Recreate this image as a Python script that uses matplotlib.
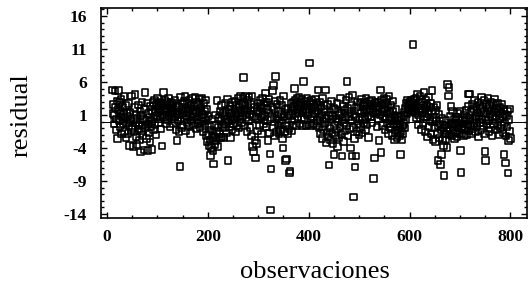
import matplotlib
matplotlib.use('Agg')
import matplotlib.pyplot as plt
from matplotlib.ticker import MultipleLocator
import numpy as np

res_a = [4.8, 1.2, 2.6, -0.4, 0.9, 4.6, 2.1, -1.3, 0.4, 3.1,
         -2.6, 1.8, 4.7, 0.2, 2.9, -0.8, 1.5, 3.4, -1.9, 0.7,
         2.2, -0.3, 1.1, 3.8, -1.5, 0.6, 2.4, -2.4, 1.3, -0.1,
         0.8, -1.8, 2.7, -0.6, -3.6, 1.4, 0.1, -1.2, 3.9, -0.9,
         -3.8, 0.5, -1.6, 2.1, 4.1, -0.2, -2.3, 1.0, -3.5, 0.3,
         -1.1, 2.5, -0.5, -2.8, 1.6, -4.6, 0.9, -1.4, 3.0, -0.7,
         -2.1, 0.4, -4.3, 1.9, 4.4, -1.0, 0.2, -2.6, 2.8, -0.4,
         -4.4, 1.2, -1.7, 0.6, -3.1, 2.3, -0.8, 0.0, -4.2, 1.5,
         2.9, -1.3, 0.7, 3.3, -0.5, 1.8, -2.0, 2.6, 0.9, 3.5,
         1.4, -0.2, 2.2, 3.0, 0.6, 1.9, -1.1, 2.7, -3.7, 1.0]
res_b = [2.4, 4.4, 1.7, 0.8, 3.2, 2.0, -0.4, 1.5, 2.9, 0.3,
         1.8, 3.6, 0.9, 2.5, -0.8, 1.2, 3.0, 2.2, 0.5, 1.6,
         2.8, -0.3, 1.9, 0.7, 3.3, 1.1, -1.2, 2.4, -2.9, 1.4,
         0.2, 2.1, -1.5, 1.0, -6.8, 3.7, 0.6, -0.9, 1.8, 2.6,
         -0.6, 1.3, 3.1, 0.4, 3.8, -1.4, 2.0, 0.9, -0.2, 2.7,
         1.5, -0.7, 3.2, 0.8, 1.9, -1.8, 2.4, 0.1, 3.5, 1.2,
         -0.5, 2.3, 0.7, 3.7, 1.6, -1.1, 2.9, 0.3, 1.4, -0.3,
         2.6, 0.9, 3.4, -0.9, 1.7, 2.2, 0.0, 3.6, 1.1, -1.6,
         0.6, 2.8, -0.4, 1.5, 3.3, 0.2, -2.1, 1.9, -3.0, 0.8,
         -1.9, -3.6, -0.7, -2.8, -5.1, -1.3, -3.9, 0.4, -2.4, -4.4]
res_c = [-6.4, -2.2, -0.6, -3.5, 1.0, -2.9, -1.5, 3.2, -3.8, -0.9,
         -2.4, 0.6, -1.8, 1.5, -2.5, 0.2, 2.4, -2.3, -0.5, 1.3,
         -2.4, 0.9, -1.0, 2.7, -0.3, 1.6, -1.7, 0.4, 3.4, -5.9,
         0.1, 1.8, -0.8, 2.3, -2.4, 0.7, 1.2, -1.3, 2.9, 0.5,
         -0.4, 1.9, 0.3, 3.1, -1.6, 1.1, 2.5, -0.6, 0.8, 3.5,
         1.6, -1.0, 2.2, 0.4, 3.8, 1.3, -0.2, 2.7, 0.9, 3.6,
         6.7, 1.8, -0.7, 2.5, 3.9, 0.6, 1.4, -1.5, 3.3, 2.0,
         0.2, 3.7, 1.1, -0.9, 2.6, 1.7, -2.2, 3.9, -3.8, 0.8,
         -4.5, 2.1, -2.9, -5.5, 0.5, -3.3, 1.6, -1.4, 2.8, 0.3,
         1.5, -0.6, 3.2, 2.3, 0.7, -1.9, 2.0, 3.6, 1.0, -0.3]
res_d = [2.4, 0.9, 3.0, 4.3, -0.8, 1.8, 2.9, 0.2, -2.9, 1.3,
         3.4, -1.7, -4.9, -13.4, -7.2, 0.6, 2.2, 4.7, -1.0, 5.5,
         1.9, -2.2, 3.1, 6.8, 0.4, -1.6, 2.6, 0.8, -0.5, 1.5,
         -1.9, 0.2, 3.2, -1.2, 1.1, -0.3, 2.4, -2.6, -4.0, 3.9,
         0.7, -1.5, 1.8, -5.9, -0.7, -5.7, 2.0, -1.8, 0.5, 1.2,
         -1.1, -7.8, -7.5, 0.9, 2.7, -1.4, 0.1, 1.6, -0.6, 3.0,
         2.3, 5.0, 3.3, 1.2, 2.8, -0.6, 3.6, 1.9, 0.8, 2.5,
         3.7, 1.4, -0.4, 2.9, 2.1, 0.6, 3.4, -0.6, 1.7, 6.1,
         2.6, 0.3, 3.1, 1.8, -0.7, 2.4, 3.6, 1.0, -0.5, 2.2,
         1.5, 8.9, 2.9, 0.4, -0.6, 3.2, 1.9, 0.8, 2.6, -0.3]
res_e = [2.1, 1.2, 3.4, -0.6, 1.6, 2.8, 0.2, 4.8, 1.3, -0.9,
         3.0, 0.7, -1.8, 2.2, 1.0, -2.6, 3.5, 0.1, -1.2, 2.4,
         -0.4, 1.8, 4.8, -3.2, 0.5, -1.6, 2.6, -2.3, 0.9, -6.6,
         -1.0, 1.4, -2.8, 0.3, 3.1, -1.7, 0.8, -3.4, 2.0, -5.0,
         -0.6, 1.9, -2.1, 0.4, -1.3, 2.7, -3.8, 0.0, 1.5, -2.5,
         0.9, -0.8, 3.6, -1.9, 1.2, -5.2, 0.3, 2.3, -3.0, -0.2,
         1.7, -1.4, 0.6, 3.3, -0.7, 6.1, 2.0, -2.2, 0.8, 3.7,
         -1.1, 1.3, -4.0, 0.2, 2.5, -5.2, 4.0, -0.9, -11.4, 1.0,
         -2.6, -6.9, 0.7, -5.2, 2.2, -1.5, 3.0, -0.4, 1.6, -2.0,
         0.4, 2.8, -0.9, 1.2, 3.4, -1.7, 0.6, 2.3, -0.2, 1.5]
res_f = [2.9, 0.3, -1.3, 3.6, 1.8, -0.5, 2.4, 0.9, -2.4, 1.6,
         3.1, 1.9, 2.6, 0.7, 3.3, -0.2, 2.0, 1.4, -8.6, 2.8,
         -5.5, 1.2, 3.0, 2.2, -0.8, 1.7, 2.9, 0.5, -2.9, 2.4,
         1.1, 4.8, -4.7, 3.2, 1.5, -0.6, 2.5, 0.8, 3.6, 1.9,
         -1.2, 2.7, 0.4, 3.4, 1.3, -0.3, 2.1, -1.8, 3.9, 0.6,
         1.5, -0.9, 2.4, 0.2, -2.1, 1.6, 3.1, -0.4, 0.9, -2.7,
         0.5, -1.3, 1.8, -0.6, -2.4, 0.2, -1.7, 0.8, -0.9, -2.2,
         -0.4, -5.0, -1.5, 0.6, -2.8, -0.7, -1.9, 0.9, -0.3, 1.4,
         -1.0, 2.0, 0.3, 2.7, 1.2, 3.3, 2.5, 1.8, 3.0, 2.2,
         2.6, 1.7, 3.2, 2.1, 2.9, 1.5, 11.7, 2.4, 3.4, 1.9]
res_g = [2.8, 1.3, 3.6, 0.6, 2.2, 4.2, 1.0, -0.5, 2.7, 1.6,
         3.9, 0.4, 2.0, -1.2, 3.0, 1.4, -0.3, 2.5, 4.4, 0.8,
         1.9, -1.6, 3.3, 0.7, 2.4, -2.3, 1.2, 3.7, -0.8, 2.1,
         0.3, 2.8, -1.9, 1.5, 4.7, 0.0, -2.7, 2.2, 0.6, -1.0,
         1.7, -3.0, 0.2, 2.4, -1.8, -5.9, -0.6, 1.1, -2.5, -0.4,
         -6.5, -1.3, -5.0, 0.5, -2.9, -1.0, -3.6, -8.2, -0.5, -1.9,
         -2.7, 0.2, -1.4, -3.9, 5.6, -0.9, 3.9, 5.2, -2.0, 0.8,
         -1.2, 2.3, -0.4, -2.2, 1.6, -0.8, -1.7, 0.4, -2.6, -0.3,
         -1.5, 0.7, -0.6, -2.3, 1.2, -1.0, 0.3, -1.9, -0.2, 1.6,
         -4.4, -7.7, -0.8, -1.8, 0.5, -0.4, -2.1, 1.0, -1.2, 0.2]
res_h = [-0.9, 1.7, -2.0, 0.6, -0.5, 2.3, 4.2, -1.4, 4.2, 0.4,
         -0.7, 1.5, -1.8, 2.6, 0.1, -1.1, 1.9, -0.3, 3.3, 0.8,
         -1.6, 2.2, 0.5, -0.8, 1.3, 3.0, -2.3, 0.9, 2.5, -0.2,
         1.8, -1.2, 3.7, 0.3, 2.1, -0.6, 1.4, 3.3, -1.9, -4.5,
         -5.9, 0.7, 2.6, -0.4, 1.9, 3.6, 0.2, -1.5, 2.3, 1.1,
         -0.9, 3.0, 1.6, -2.1, 0.8, 2.7, -0.3, 1.4, 3.4, 0.5,
         -1.3, 2.0, 0.9, 2.8, -0.7, 1.5, -2.0, 0.4, 2.2, -1.0,
         1.2, -0.5, 2.6, 0.7, -1.7, 1.8, -5.0, -0.2, 1.1, -6.3,
         -2.2, 0.9, -0.8, 1.6, -7.8, -2.9, 0.3, -1.4, 1.9, -2.6]

residual = np.array(res_a + res_b + res_c + res_d + res_e + res_f + res_g + res_h)
obs = np.arange(11, 11 + len(residual))

yticks = [-14, -9, -4, 1, 6, 11, 16]
xticks = [0, 200, 400, 600, 800]

plt.rcParams['font.family'] = ['Liberation Serif', 'DejaVu Serif']
plt.rcParams['axes.unicode_minus'] = False

fig = plt.figure(figsize=(5.31, 2.93), dpi=100)
ax = fig.add_axes([101/531, 1 - 218/293, 426/531, 210/293])

ax.axhline(0, color='black', lw=0.7, zorder=1)
ax.scatter(obs, residual, marker='s', s=22, facecolors='none',
           edgecolors='black', linewidths=1.15, zorder=2)

ax.set_xlim(-12, 833)
ax.set_ylim(-14.6, 17.2)
ax.set_xticks(xticks)
ax.set_yticks(yticks)
ax.xaxis.set_minor_locator(MultipleLocator(50))
ax.yaxis.set_minor_locator(MultipleLocator(1))
ax.tick_params(which='both', direction='in', top=True, right=True, width=1)
ax.tick_params(which='major', length=4, labelsize=12.5)
ax.tick_params(which='minor', length=2)
ax.tick_params(axis='y', pad=10)
ax.tick_params(axis='x', pad=8)
for lab in ax.get_xticklabels() + ax.get_yticklabels():
    lab.set_fontweight('bold')
for sp in ax.spines.values():
    sp.set_linewidth(1.2)

fig.text(22/531, 1 - 115/293, 'residual', rotation=90, ha='center', va='center', fontsize=19)
fig.text(315/531, 1 - 272/293, 'observaciones', ha='center', va='center', fontsize=19)

fig.savefig('out.png', dpi=100)
